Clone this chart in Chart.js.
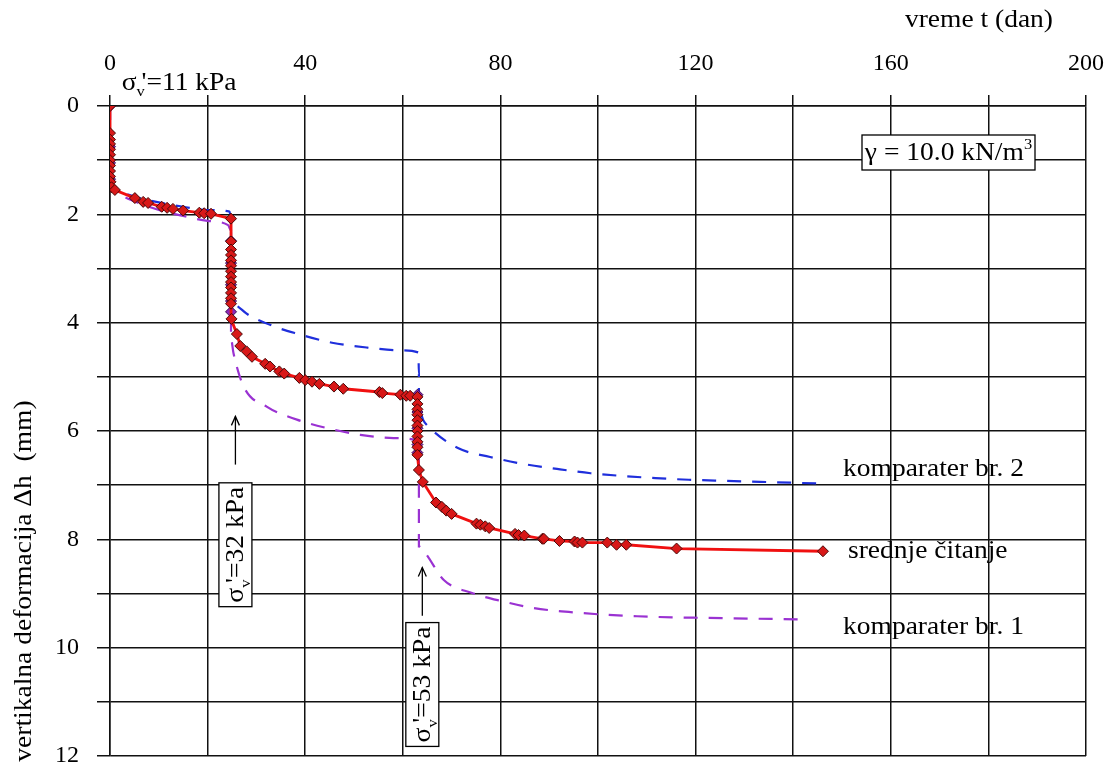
<!DOCTYPE html>
<html><head><meta charset="utf-8">
<script src="https://cdn.jsdelivr.net/npm/chart.js@4.4.0/dist/chart.umd.min.js"></script>
<style>html,body{margin:0;padding:0;background:#fff;}#wrap{width:1112px;height:769px;}</style>
</head><body><div id="wrap"><canvas id="c" width="1112" height="769"></canvas></div>
<script>
// ---- data ----
const xLabelTicks = [0, 40, 80, 120, 160, 200];
const yLabelTicks = [0, 2, 4, 6, 8, 10, 12];

// srednje čitanje (mean reading)
const tSred = [0,0,0,0,0,0,0,0,0,0,0.1,0.3,1.0,5.1,6.8,7.8,10.6,11.7,12.9,15.0,18.3,19.3,20.7,24.8,
  24.8,24.8,24.8,24.8,24.8,24.8,24.8,24.8,24.8,24.8,24.8,24.8,24.9,
  26.0,26.7,28.0,29.1,31.8,32.8,34.7,35.7,38.8,40.0,41.4,42.9,45.9,47.8,55.2,55.8,59.5,60.7,61.5,63.0,
  63.0,63.0,63.0,63.0,63.0,63.0,63.0,63.0,63.0,63.0,
  63.3,64.1,66.8,68.0,68.9,70.0,75.1,75.9,76.9,77.7,83.0,83.7,84.9,88.6,88.9,92.1,95.2,95.8,96.8,101.9,103.8,105.8,116.1,146.1];
const hSred = [0,0.5,0.62,0.7,0.8,0.9,1.0,1.1,1.2,1.3,1.4,1.5,1.55,1.70,1.77,1.79,1.86,1.88,1.90,1.93,1.97,1.98,1.99,2.08,
  2.5,2.65,2.75,2.85,2.95,3.05,3.15,3.25,3.35,3.45,3.55,3.65,3.93,
  4.21,4.43,4.53,4.63,4.76,4.81,4.90,4.94,5.02,5.06,5.09,5.13,5.18,5.22,5.28,5.30,5.33,5.35,5.35,5.37,
  5.5,5.6,5.7,5.8,5.9,6.0,6.1,6.2,6.3,6.44,
  6.72,6.94,7.32,7.40,7.47,7.53,7.71,7.73,7.76,7.79,7.90,7.92,7.93,7.99,7.99,8.03,8.04,8.06,8.06,8.06,8.10,8.10,8.17,8.22];

// komparater readings shown as markers on the loading steps
const tKompPts = [0,0,0,0,24.8,24.8,24.8,24.8,24.8,63.0,63.0,63.0,63.0,63.0];
const hKompPts = [0,0.75,1.05,1.35,2.49,2.9,3.3,3.6,3.8,5.33,5.65,5.95,6.25,6.4];

// komparater br. 2
const tK2 = [0,0,1,5,10,15,20,24.5,24.8,24.8,25.5,27.0,32.8,39.0,45.5,52.7,59.5,63.2,63.3,63.3,64.2,65.6,71.4,77.9,84.8,91.6,98.5,105.0,111.8,118.6,125.8,146.0];
const hK2 = [0,1.5,1.55,1.67,1.78,1.86,1.92,1.95,2.1,3.3,3.58,3.76,4.04,4.22,4.37,4.46,4.51,4.55,4.95,5.6,5.8,5.95,6.32,6.48,6.61,6.70,6.78,6.83,6.87,6.90,6.92,6.97];

// komparater br. 1
const tK1 = [0,0,1,5,10,15,20,24.2,24.8,24.8,25.3,27.4,32.1,38.3,45.1,51.3,58.1,62.6,63.3,63.3,64.6,68.4,74.2,80.7,86.8,94.0,101.2,108.0,115.2,122.0,142.9];
const hK1 = [0,1.5,1.58,1.76,1.92,2.03,2.12,2.2,2.3,4.3,4.56,5.18,5.55,5.79,5.96,6.07,6.13,6.17,6.5,8.13,8.25,8.75,8.99,9.15,9.27,9.34,9.39,9.42,9.44,9.45,9.48];

const toPts = (xs, ys) => xs.map((x, i) => ({x: x, y: ys[i]}));

const SERIF = "'Liberation Serif', 'Times New Roman', serif";
const SX = 1.1; // horizontal stretch of annotation text

const annot = {
  id: 'annot',
  afterDatasetsDraw(chart) {
    const ctx = chart.ctx;
    const xs = chart.scales.x, ys = chart.scales.y;
    const area = chart.chartArea;

    function txt(s, x, y, size, align) {
      ctx.save();
      ctx.font = size + 'px ' + SERIF;
      ctx.textBaseline = 'middle';
      ctx.textAlign = 'left';
      const w = ctx.measureText(s).width * SX;
      let x0 = x;
      if (align === 'right') x0 = x - w;
      else if (align === 'center') x0 = x - w / 2;
      ctx.translate(x0, y);
      ctx.scale(SX, 1);
      ctx.fillStyle = '#000';
      ctx.fillText(s, 0, 0);
      ctx.restore();
      return w;
    }

    ctx.save();
    ctx.fillStyle = '#000';
    // axis titles
    txt('vreme t (dan)', 1053, 20, 25, 'right');
    ctx.save();
    ctx.translate(24, 581);
    ctx.rotate(-Math.PI / 2);
    txt('vertikalna deformacija \u0394h  (mm)', 0, 0, 25, 'center');
    ctx.restore();

    // sigma label: draws σ_v'=.. kPa starting at (0,0) baseline-left, stretched
    function sigma(text, size) {
      ctx.save();
      ctx.scale(SX, 1);
      ctx.fillStyle = '#000';
      ctx.font = size + 'px ' + SERIF;
      ctx.textAlign = 'left'; ctx.textBaseline = 'alphabetic';
      let x = 0;
      ctx.fillText('\u03c3', x, 0); x += ctx.measureText('\u03c3').width;
      ctx.font = Math.round(size * 0.6) + 'px ' + SERIF;
      ctx.fillText('v', x, size * 0.25); x += ctx.measureText('v').width * 0.6;
      ctx.font = size + 'px ' + SERIF;
      ctx.fillText("'" + text, x, 0);
      ctx.restore();
    }
    function sigmaWidth(text, size) {
      ctx.font = size + 'px ' + SERIF;
      let w = ctx.measureText('\u03c3').width + ctx.measureText("'" + text).width;
      ctx.font = Math.round(size * 0.6) + 'px ' + SERIF;
      w += ctx.measureText('v').width * 0.6;
      return w * SX;
    }
    // sigma 11 kPa above plot
    ctx.save();
    ctx.translate(xs.getPixelForValue(2.4), area.top - 16);
    sigma('=11 kPa', 25);
    ctx.restore();

    // rotated boxed labels with arrows
    function rotBox(xv, yc, text, arrowFrom, arrowTo) {
      const px = xs.getPixelForValue(xv);
      const py = ys.getPixelForValue(yc);
      const size = 25;
      const w = sigmaWidth(text, size);
      const bw = w + 8, bh = 33;
      ctx.save();
      ctx.translate(px, py);
      ctx.rotate(-Math.PI / 2);
      ctx.fillStyle = '#fff';
      ctx.fillRect(-bw / 2, -bh / 2, bw, bh);
      ctx.strokeStyle = '#000'; ctx.lineWidth = 1.3;
      ctx.strokeRect(-bw / 2, -bh / 2, bw, bh);
      ctx.translate(-w / 2, 8);
      sigma(text, size);
      ctx.restore();
      // arrow
      const a0 = ys.getPixelForValue(arrowFrom), a1 = ys.getPixelForValue(arrowTo);
      ctx.strokeStyle = '#000'; ctx.lineWidth = 1.3;
      ctx.beginPath(); ctx.moveTo(px, a0); ctx.lineTo(px, a1); ctx.stroke();
      ctx.beginPath(); ctx.moveTo(px - 4, a1 + 9); ctx.lineTo(px, a1); ctx.lineTo(px + 4, a1 + 9); ctx.stroke();
    }
    rotBox(25.7, 8.1, '=32 kPa', 6.62, 5.73);
    rotBox(64.0, 10.68, '=53 kPa', 9.41, 8.52);

    // gamma box
    {
      const s1 = '\u03b3 = 10.0 kN/m';
      ctx.font = '25px ' + SERIF;
      const w = ctx.measureText(s1).width * SX;
      ctx.font = '15px ' + SERIF;
      const w2 = ctx.measureText('3').width * SX;
      const x0 = 862, y0 = 135, bw = 173, bh = 35;
      ctx.fillStyle = '#fff'; ctx.fillRect(x0, y0, bw, bh);
      ctx.strokeStyle = '#000'; ctx.lineWidth = 1.3; ctx.strokeRect(x0, y0, bw, bh);
      const sx = x0 + (bw - w - w2) / 2;
      txt(s1, sx, y0 + 18, 25, 'left');
      txt('3', sx + w, y0 + 10, 15, 'left');
    }

    // series labels
    txt('komparater br. 2', 843, 469, 25, 'left');
    txt('srednje \u010ditanje', 848, 551, 25, 'left');
    txt('komparater br. 1', 843, 627, 25, 'left');
    ctx.restore();
  }
};

new Chart(document.getElementById('c'), {
  type: 'scatter',
  data: {
    datasets: [
      {
        label: 'srednje čitanje',
        data: toPts(tSred, hSred),
        showLine: true,
        borderColor: '#f01010',
        borderWidth: 2.8,
        backgroundColor: '#d81818',
        pointStyle: 'rectRot',
        pointRadius: 5.5,
        pointBorderColor: '#4a0808',
        pointBorderWidth: 1,
        pointBackgroundColor: '#d81818',
        tension: 0
      },
      {
        label: 'komparater',
        data: toPts(tKompPts, hKompPts),
        showLine: false,
        pointStyle: 'rectRot',
        pointRadius: 5.5,
        pointBorderColor: '#3a0a50',
        pointBorderWidth: 1,
        pointBackgroundColor: '#8a28b8'
      },
      {
        label: 'komparater br. 2',
        data: toPts(tK2, hK2),
        showLine: true,
        borderColor: '#1f2fdc',
        borderWidth: 2.2,
        borderDash: [14, 11],
        pointRadius: 0,
        cubicInterpolationMode: 'monotone'
      },
      {
        label: 'komparater br. 1',
        data: toPts(tK1, hK1),
        showLine: true,
        borderColor: '#9a32d2',
        borderWidth: 2.2,
        borderDash: [14, 11],
        pointRadius: 0,
        cubicInterpolationMode: 'monotone'
      }
    ]
  },
  options: {
    responsive: false,
    animation: false,
    devicePixelRatio: 1,
    layout: { padding: { left: 0, top: 0, right: 26, bottom: 13 } },
    plugins: { legend: { display: false }, tooltip: { enabled: false } },
    scales: {
      x: {
        type: 'linear', position: 'top', min: 0, max: 200,
        afterFit(s) { s.height = 106; s.paddingLeft = 0; s.paddingRight = 0; },
        ticks: {
          stepSize: 20, color: '#000', padding: 17,
          font: { family: SERIF, size: 24 },
          maxRotation: 0, autoSkip: false,
          callback: v => xLabelTicks.includes(v) ? String(v) : ''
        },
        grid: { color: '#111', lineWidth: 1.5, tickLength: 11, tickColor: '#111' },
        border: { color: '#111', width: 1.5 }
      },
      y: {
        type: 'linear', reverse: true, min: 0, max: 12,
        afterFit(s) { s.width = 110; s.paddingTop = 0; s.paddingBottom = 0; },
        ticks: {
          stepSize: 1, color: '#000', padding: 18,
          font: { family: SERIF, size: 24 },
          autoSkip: false,
          callback: v => yLabelTicks.includes(v) ? String(v) : ''
        },
        grid: { color: '#111', lineWidth: 1.5, tickLength: 13, tickColor: '#111' },
        border: { color: '#111', width: 1.5 }
      }
    }
  },
  plugins: [annot]
});
</script>
</body></html>
